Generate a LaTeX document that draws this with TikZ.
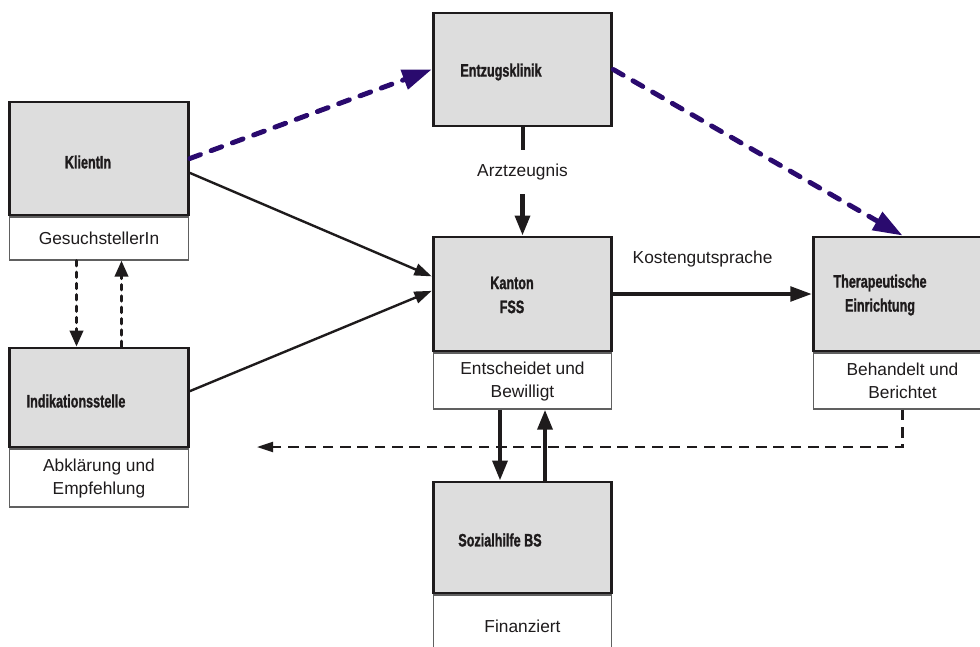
\documentclass[tikz,border=0pt]{standalone}
\usepackage{fontspec}
\setmainfont{Liberation Sans}
\newfontfamily\titlefont[FakeStretch=0.7,FakeBold=1.2]{Liberation Sans Bold}
\usetikzlibrary{arrows.meta, calc}
\definecolor{boxgray}{RGB}{221,221,221}
\definecolor{ink}{RGB}{30,27,28}
\definecolor{lila}{RGB}{42,10,110}

\begin{document}
\begin{tikzpicture}[x=0.75pt, y=-0.75pt,
    box/.style={draw=ink, line width=2.2pt, fill=boxgray, minimum width=134pt, inner sep=0pt},
    sub/.style={draw=gray!75!black, line width=0.9pt, fill=white, minimum width=134pt, inner sep=0pt, align=center, text=ink, font=\fontsize{13pt}{17.3pt}\selectfont},
    title/.style={text=ink, align=center, inner sep=0pt, font=\titlefont\fontsize{13.5pt}{18pt}\selectfont},
    note/.style={text=ink, inner sep=0pt, font=\fontsize{13pt}{17.3pt}\selectfont},
    lila arrow/.style={draw=lila, line width=3.7pt, line cap=round, dash pattern=on 8.5pt off 8.5pt, -{Triangle[length=22pt, width=15pt]}},
    thin arrow/.style={draw=ink, line width=1.8pt, -{Triangle[length=13pt, width=9pt]}},
    mid arrow/.style={draw=ink, line width=2.5pt, -{Triangle[length=16pt, width=11pt]}},
    thick arrow/.style={draw=ink, line width=3.2pt, -{Triangle[length=15pt, width=11pt]}},
    dot arrow/.style={draw=ink, line width=2.2pt, line cap=round, dash pattern=on 4pt off 4.5pt, -{Triangle[length=12pt, width=10pt]}},
    back arrow/.style={draw=ink, line width=1.6pt, dash pattern=on 8pt off 5pt, -{Triangle[length=12pt, width=7.5pt]}}]
    \clip (0,0) rectangle (980,646);
    \node[box, minimum height=84.75pt] (klient) at (99,158.5) {};
    \node[sub, minimum height=32.25pt, anchor=north] (klientSub) at (klient.south) {GesuchstellerIn};
    \node[box, minimum height=74.25pt] (indik) at (99,397.5) {};
    \node[sub, minimum height=43.5pt, anchor=north] (indikSub) at (indik.south) {Abklärung und\\Empfehlung};
    \node[box, minimum height=84.75pt] (entzug) at (522.5,69.5) {};
    \node[box, minimum height=85.5pt] (kanton) at (522.5,294) {};
    \node[sub, minimum height=42pt, anchor=north] (kantonSub) at (kanton.south) {Entscheidet und\\Bewilligt};
    \node[box, minimum height=85.5pt] (thera) at (902.5,294) {};
    \node[sub, minimum height=42pt, anchor=north] (theraSub) at (thera.south) {Behandelt und\\Berichtet};
    \node[box, minimum height=83.25pt] (sozial) at (522.5,537.5) {};
    \node[sub, minimum height=46.5pt, anchor=north] (sozialSub) at (sozial.south) {Finanziert};
    \node[title] (klientT) at (88,162) {KlientIn};
    \node[title] (indikT) at (76,401) {Indikationsstelle};
    \node[title] (entzugT) at (501,72) {Entzugsklinik};
    \node[title] (kantonT) at (512,295) {Kanton\\FSS};
    \node[title] (theraT) at (880,295) {Therapeutische\\Einrichtung};
    \node[title] (sozialT) at (500,540) {Sozialhilfe BS};
    \node[note, inner ysep=10.5pt] (arzt) at (522.5,172) {Arztzeugnis};
    \draw[lila arrow] (klient.east) -- (entzug.west);
    \draw[lila arrow] (entzug.east) -- (thera.north);
    \draw[thin arrow] (klient.-9) -- (kanton.169);
    \draw[thin arrow] (indik.4) -- (kanton.178);
    \draw[draw=ink, line width=3pt] (entzug) -- (arzt);
    \draw[thick arrow] (arzt) -- (kanton);
    \draw[mid arrow] (kanton) -- node[note, pos=0.45, above=19pt] (kosten) {Kostengutsprache} (thera);
    \draw[thick arrow] ($(kantonSub.south)+(-22.5,0)$) -- ($(sozial.north)+(-22.5,0)$);
    \draw[thick arrow] ($(sozial.north)+(22.5,0)$) -- ($(kantonSub.south)+(22.5,0)$);
    \draw[dot arrow] ($(klientSub.south)+(-22.5,0)$) -- ($(indik.north)+(-22.5,0)$);
    \draw[dot arrow] ($(indik.north)+(22.5,0)$) -- ($(klientSub.south)+(22.5,0)$);
    \coordinate (ret) at (257,447);
    \draw[back arrow] (theraSub.south) |- (ret);
\end{tikzpicture}
\end{document}
